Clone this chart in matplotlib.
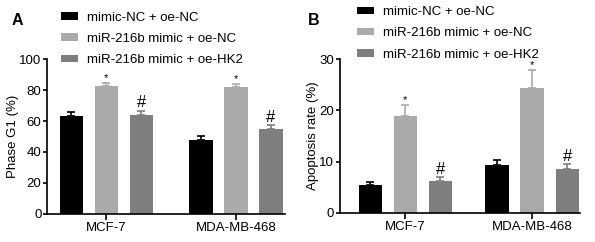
import numpy as np
import matplotlib
matplotlib.use("Agg")
import matplotlib.pyplot as plt
from matplotlib.patches import Patch

plt.rcParams['font.family'] = ['Liberation Sans', 'DejaVu Sans']

cells = ["MCF-7", "MDA-MB-468"]
groups = ["mimic-NC + oe-NC", "miR-216b mimic + oe-NC", "miR-216b mimic + oe-HK2"]
colors = ["#000000", "#aaaaaa", "#7f7f7f"]

g1_mean = [[63.5, 48.0], [82.5, 82.0], [64.0, 55.0]]
g1_err = [[2.5, 2.0], [1.8, 1.8], [2.6, 2.2]]
apo_mean = [[5.4, 9.3], [18.9, 24.3], [6.3, 8.5]]
apo_err = [[0.7, 1.1], [2.1, 3.6], [0.7, 1.0]]
marks = ["", "*", "#"]

fig = plt.figure(figsize=(5.95, 2.42), dpi=100)
axA = fig.add_axes([0.079, 0.116, 0.400, 0.640])
axB = fig.add_axes([0.571, 0.120, 0.404, 0.636])


def draw(ax, means, errs, ymax, step, ylabel, sep, left, right, mark_pad):
    centers = np.array([0.0, sep])
    for i in range(3):
        x = centers + (i - 1)
        ax.bar(x, means[i], width=0.66, color=colors[i], zorder=2)
        ax.errorbar(x, means[i], yerr=[np.zeros(2), errs[i]], fmt="none",
                    ecolor=colors[i], elinewidth=1.2, capsize=3, capthick=1.2, zorder=1)
        if marks[i]:
            for xi, m, e in zip(x, means[i], errs[i]):
                fs = 8 if marks[i] == "*" else 12
                ax.text(xi, m + e + mark_pad, marks[i], ha="center", va="bottom", fontsize=fs)
    ax.set_xlim(-left, sep + right)
    ax.set_ylim(0, ymax)
    ax.set_yticks(np.arange(0, ymax + 1, step))
    ax.set_xticks(centers)
    ax.set_xticklabels(cells, fontsize=9.5)
    ax.tick_params(axis="y", labelsize=9.5, length=3, width=1.2, pad=1)
    ax.tick_params(axis="x", length=4, width=1.2, pad=2)
    ax.set_ylabel(ylabel, fontsize=9.5, labelpad=0)
    for s in ["top", "right"]:
        ax.spines[s].set_visible(False)
    for s in ["left", "bottom"]:
        ax.spines[s].set_linewidth(1.2)


draw(axA, g1_mean, g1_err, 100, 20, "Phase G1 (%)", 3.71, 1.69, 1.40, 0.3)
draw(axB, apo_mean, apo_err, 30, 10, "Apoptosis rate (%)", 3.61, 1.87, 1.37, 0.0)

handles = [Patch(facecolor=c, edgecolor="none") for c in colors]
for ax, lx, ly in [(axA, 0.059, 0.955), (axB, 0.071, 0.99)]:
    ax.legend(handles, groups, loc="lower left", bbox_to_anchor=(lx, ly),
              frameon=False, fontsize=9.5, handlelength=1.3, handleheight=0.5,
              labelspacing=0.7, borderaxespad=0, borderpad=0, handletextpad=0.7)

fig.text(0.02, 0.915, "A", fontsize=11.5, fontweight="bold", va="center")
fig.text(0.517, 0.915, "B", fontsize=11.5, fontweight="bold", va="center")

fig.savefig("out.png", dpi=100)
